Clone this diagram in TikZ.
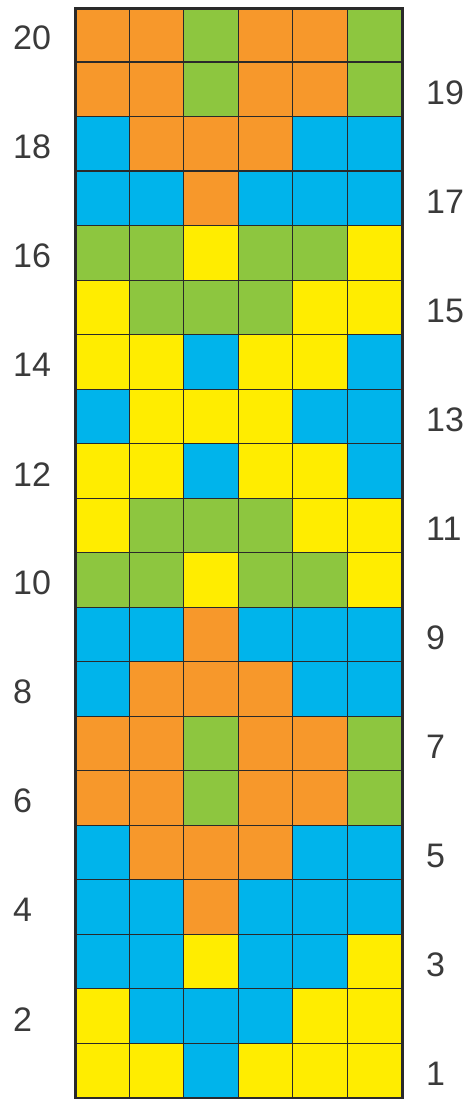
\documentclass[tikz,border=0pt]{standalone}
\usepackage{fontspec}
\setmainfont{Liberation Sans}
\definecolor{cO}{HTML}{F7982B}
\definecolor{cG}{HTML}{8DC63F}
\definecolor{cB}{HTML}{00B4EB}
\definecolor{cY}{HTML}{FFED00}
\definecolor{gridline}{HTML}{2A2A2A}
\definecolor{labtext}{HTML}{3A3A3A}
\begin{document}
\begin{tikzpicture}[x=1pt,y=-1pt,
  cell/.style={rectangle, draw=gridline, line width=1.3pt, inner sep=0pt,
    minimum width=54.5pt, minimum height=54.5pt, anchor=north west},
  numlab/.style={inner sep=0pt, text=labtext, font=\fontsize{34}{40}\selectfont, anchor=west}]
\useasboundingbox[fill=white] (0,0) rectangle (472,1099);
\foreach \r/\cols in {
  0/{O,O,G,O,O,G},
  1/{O,O,G,O,O,G},
  2/{B,O,O,O,B,B},
  3/{B,B,O,B,B,B},
  4/{G,G,Y,G,G,Y},
  5/{Y,G,G,G,Y,Y},
  6/{Y,Y,B,Y,Y,B},
  7/{B,Y,Y,Y,B,B},
  8/{Y,Y,B,Y,Y,B},
  9/{Y,G,G,G,Y,Y},
  10/{G,G,Y,G,G,Y},
  11/{B,B,O,B,B,B},
  12/{B,O,O,O,B,B},
  13/{O,O,G,O,O,G},
  14/{O,O,G,O,O,G},
  15/{B,O,O,O,B,B},
  16/{B,B,O,B,B,B},
  17/{B,B,Y,B,B,Y},
  18/{Y,B,B,B,Y,Y},
  19/{Y,Y,B,Y,Y,Y}}{
  \foreach \c [count=\i from 0] in \cols {
    \node[cell, fill=c\c] (cell-\r-\i) at ({74+\i*54.5},{7+\r*54.5}) {};
  }
  \pgfmathtruncatemacro{\n}{20-\r}
  \pgfmathtruncatemacro{\odd}{mod(\n,2)}
  \ifnum\odd=0
    \node[numlab] (lab-\n) at (13,{7+\r*54.5+27.25+4}) {\n};
  \else
    \node[numlab] (lab-\n) at (426,{7+\r*54.5+27.25+4}) {\n};
  \fi
}
\node[draw=gridline, line width=3pt, inner sep=0pt, minimum width=327pt, minimum height=1090pt, anchor=north west] (frame) at (74,7) {};
\end{tikzpicture}
\end{document}
